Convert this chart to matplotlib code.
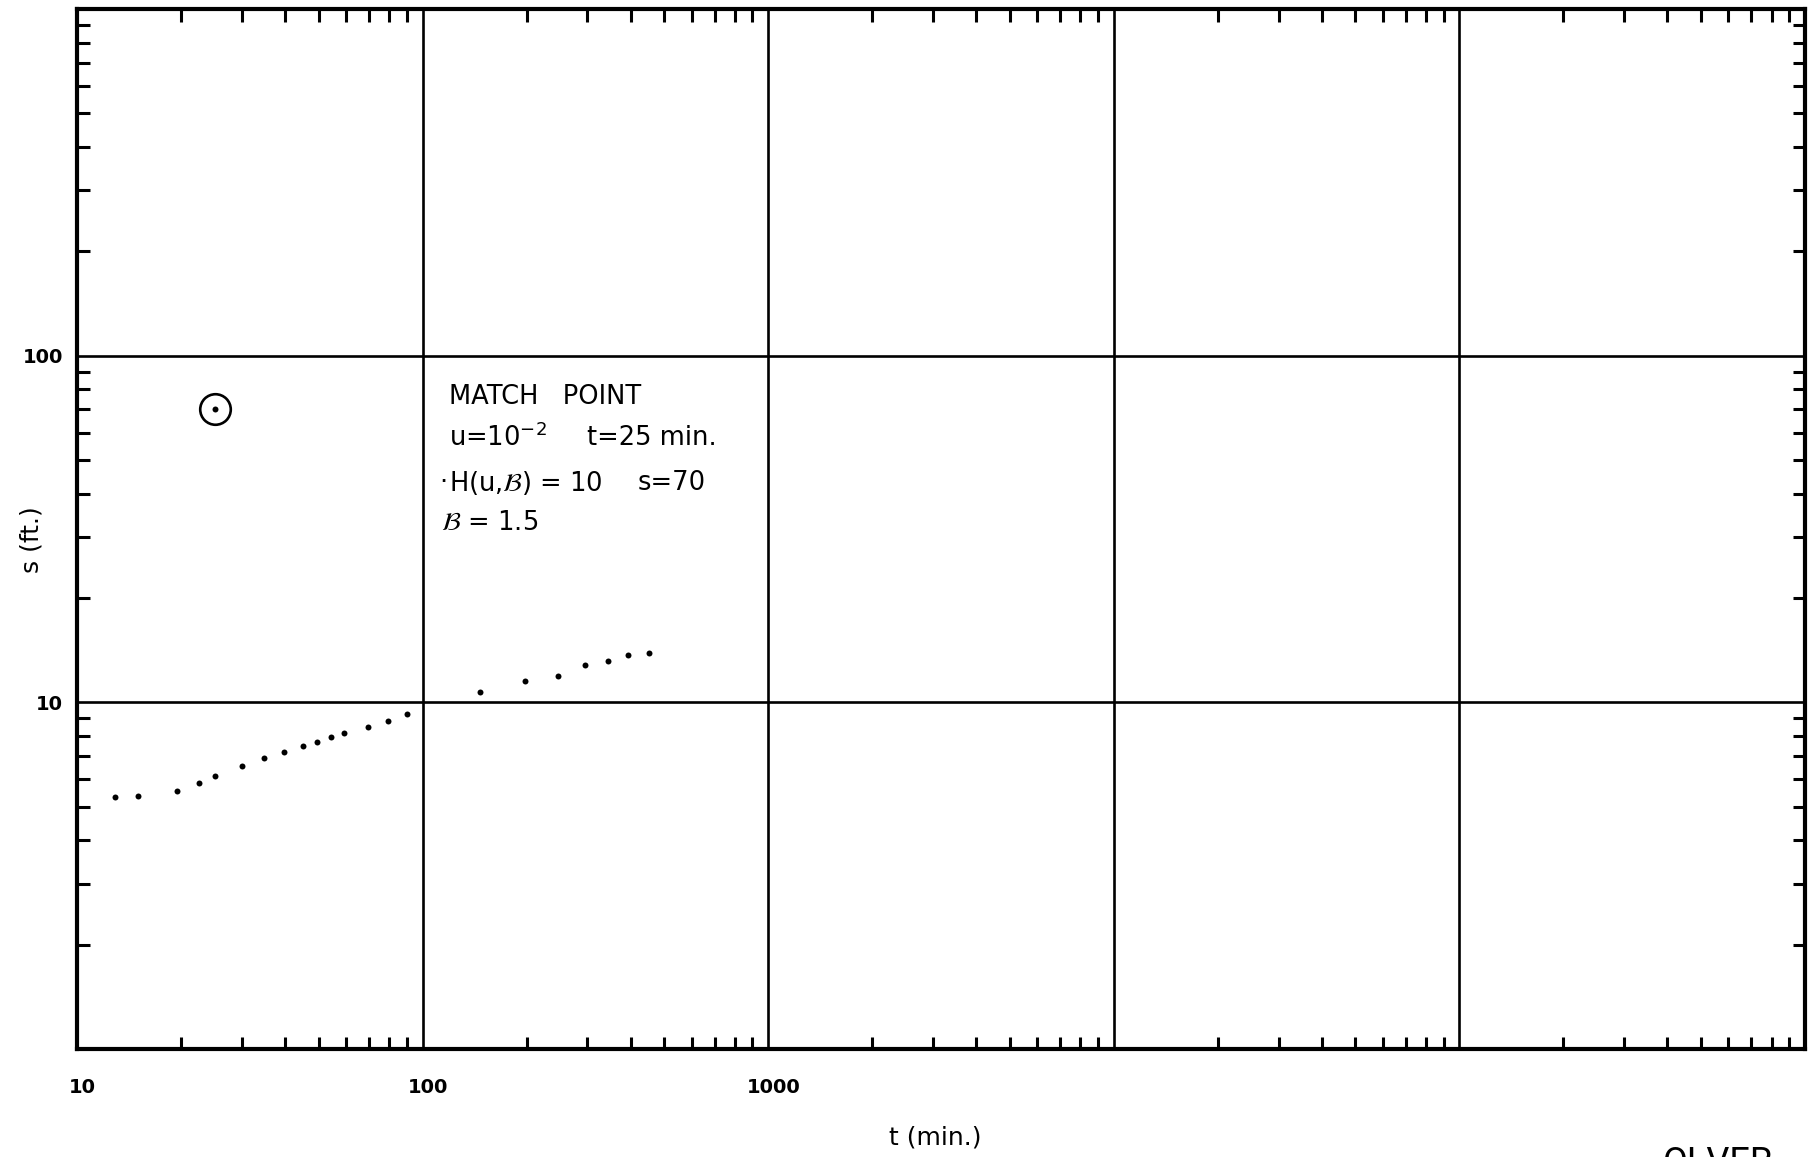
import matplotlib
matplotlib.use("Agg")
import matplotlib.pyplot as plt
from matplotlib.ticker import FixedLocator, NullFormatter, LogLocator, FixedFormatter
from matplotlib.transforms import ScaledTranslation

# data
t_early = [12.9, 15.0, 19.5, 22.6, 25.0, 30.1, 34.8, 39.7, 45.0, 49.5, 54.4, 59.4, 69.3, 79.6, 89.9]
s_early = [5.32, 5.37, 5.56, 5.85, 6.12, 6.56, 6.89, 7.20, 7.46, 7.69, 7.93, 8.15, 8.51, 8.81, 9.27]
t_late = [146.5, 197.6, 247, 295, 344, 394, 452]
s_late = [10.7, 11.56, 11.93, 12.8, 13.2, 13.7, 13.9]
match_t = [25]
match_s = [70]
x_tick_vals = [10, 100, 1000]
x_tick_labels = ["10", "100", "1000"]
y_tick_vals = [10, 100]
y_tick_labels = ["10", "100"]

plt.rcParams['font.family'] = ['DejaVu Sans']

fig = plt.figure(figsize=(18.14, 11.57), dpi=100)
ax = fig.add_axes([77/1814, 1 - 1049/1157, (1805-77)/1814, (1049-9)/1157])
ax.set_xscale('log')
ax.set_yscale('log')
ax.set_xlim(10, 1e6)
ax.set_ylim(1, 1000)

for sp in ax.spines.values():
    sp.set_linewidth(3.0)
    sp.set_color('black')

# decade grid lines
for xv in [100, 1000, 1e4, 1e5]:
    ax.axvline(xv, color='black', lw=1.9, zorder=1)
for yv in [10, 100]:
    ax.axhline(yv, color='black', lw=1.9, zorder=1)

ax.xaxis.set_major_locator(FixedLocator(x_tick_vals))
ax.xaxis.set_major_formatter(FixedFormatter(x_tick_labels))
ax.yaxis.set_major_locator(FixedLocator(y_tick_vals))
ax.yaxis.set_major_formatter(FixedFormatter(y_tick_labels))
ax.xaxis.set_minor_locator(LogLocator(base=10, subs=range(2, 10), numticks=20))
ax.yaxis.set_minor_locator(LogLocator(base=10, subs=range(2, 10), numticks=20))
ax.xaxis.set_minor_formatter(NullFormatter())
ax.yaxis.set_minor_formatter(NullFormatter())

ax.tick_params(which='major', length=0, labelsize=14)
ax.tick_params(axis='x', which='major', pad=21)
ax.tick_params(axis='y', which='major', pad=10)
ax.tick_params(which='minor', direction='in', length=9, width=2.2,
               top=True, right=True, bottom=True, left=True)
for lab in ax.get_xticklabels() + ax.get_yticklabels():
    lab.set_fontweight('bold')
# the reference's x labels sit a little right of their ticks
for lab in ax.get_xticklabels():
    lab.set_transform(lab.get_transform() + ScaledTranslation(5/100, 0, fig.dpi_scale_trans))

# data points
ax.plot(t_early, s_early, 'o', color='black', ms=4.3, mew=0, zorder=3)
ax.plot(t_late, s_late, 'o', color='black', ms=4.3, mew=0, zorder=3)
# match point
ax.plot(match_t, match_s, 'o', mfc='none', mec='black', ms=22, mew=1.9, zorder=3)
ax.plot(match_t, match_s, 'o', color='black', ms=4.3, mew=0, zorder=3)

fs = 18.5
tr = ax.transAxes
ax.text(0.2153, 0.627, "MATCH   POINT", transform=tr, fontsize=fs, va='center', ha='left')
ax.text(0.2153, 0.5875, r"u=10$^{-2}$", transform=tr, fontsize=fs, va='center', ha='left')
ax.text(0.2951, 0.5875, "t=25 min.", transform=tr, fontsize=fs, va='center', ha='left')
ax.text(0.2095, 0.5442, "·", transform=tr, fontsize=fs, va='center', ha='left')
ax.text(0.2153, 0.5442, r"H(u,$\mathcal{B}$) = 10", transform=tr, fontsize=fs, va='center', ha='left')
ax.text(0.3247, 0.5442, "s=70", transform=tr, fontsize=fs, va='center', ha='left')
ax.text(0.2106, 0.5058, r"$\mathcal{B}$ = 1.5", transform=tr, fontsize=fs, va='center', ha='left')

fig.text(935/1814, 1 - 1138/1157, "t (min.)", fontsize=18, ha='center', va='center')
fig.text(32/1814, 1 - 540/1157, "s (ft.)", fontsize=18, ha='center', va='center', rotation=90)
fig.text(1663/1814, 1 - 1145/1157, "OLVER", fontsize=26, ha='left', va='top',
         family='Roboto', color='black')

fig.savefig("out.png", dpi=100)
